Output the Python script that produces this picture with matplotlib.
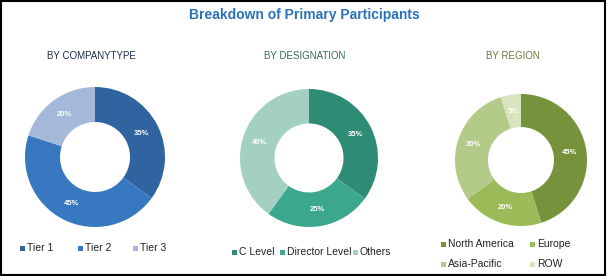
import matplotlib.pyplot as plt
from matplotlib.patches import Rectangle

# data
company_labels = ["Tier 1", "Tier 2", "Tier 3"]
company_values = [35, 45, 20]
company_colors = ["#2F64A0", "#3878C0", "#A4B9D9"]

designation_labels = ["C Level", "Director Level", "Others"]
designation_values = [35, 25, 40]
designation_colors = ["#2E8B74", "#3BA88D", "#A4CFC3"]

region_labels = ["North America", "Europe", "Asia-Pacific", "ROW"]
region_values = [45, 20, 30, 5]
region_colors = ["#76923C", "#9BBB59", "#B3CB88", "#D8E4BE"]

W, H = 607, 276
sans = ["Liberation Sans", "DejaVu Sans"]

fig = plt.figure(figsize=(W / 100, H / 100), dpi=100)
fig.patch.set_facecolor("white")


def px_axes(cx, cy, r):
    ax = fig.add_axes([(cx - r) / W, (H - cy - r) / H, 2 * r / W, 2 * r / H])
    return ax


def donut(ax, values, colors):
    wedges, _, autotexts = ax.pie(values, colors=colors, startangle=90, counterclock=False,
                                  radius=1, wedgeprops=dict(width=0.5, edgecolor="none"),
                                  autopct=lambda p: f"{p:.0f}%", pctdistance=0.75,
                                  textprops=dict(color="white", fontsize=5.5, fontweight="bold",
                                                 family=sans))
    ax.set_xlim(-1, 1)
    ax.set_ylim(-1, 1)
    ax.set_aspect("equal")
    ax.axis("off")
    return wedges


def legend_row(wedges, labels, xs, y, color="#222222"):
    for w, lab, x in zip(wedges, labels, xs):
        fig.patches.append(Rectangle((x / W, (H - y - 2.5) / H), 5 / W, 5 / H,
                                     transform=fig.transFigure, facecolor=w.get_facecolor(),
                                     edgecolor="none"))
        fig.text((x + 7) / W, 1 - y / H, lab, fontsize=7.5, family=sans, color=color,
                 va="center", ha="left")


ax1 = px_axes(95, 157, 70)
w1 = donut(ax1, company_values, company_colors)
ax2 = px_axes(309, 158, 69)
w2 = donut(ax2, designation_values, designation_colors)
ax3 = px_axes(521, 160, 66)
w3 = donut(ax3, region_values, region_colors)

fig.text(304 / W, 1 - 15 / H, "Breakdown of Primary Participants", ha="center", va="center",
         fontsize=10, fontweight="bold", color="#2A72B8", family=sans)
fig.text(91 / W, 1 - 56 / H, "BY COMPANYTYPE", ha="center", va="center", fontsize=7,
         family=sans, color="#1F2E4A")
fig.text(305 / W, 1 - 56 / H, "BY DESIGNATION", ha="center", va="center", fontsize=7,
         family=sans, color="#2E6B57")
fig.text(513 / W, 1 - 56 / H, "BY REGION", ha="center", va="center", fontsize=7,
         family=sans, color="#6B7A3A")

legend_row(w1, company_labels, [20, 78, 133], 248)
legend_row(w2, designation_labels, [232, 280, 353], 252)
legend_row(w3[:2], region_labels[:2], [441, 530], 244)
legend_row(w3[2:], region_labels[2:], [441, 530], 264)

fig.patches.append(Rectangle((0.002, 0.004), 0.994, 0.992, transform=fig.transFigure,
                             facecolor="none", edgecolor="black", linewidth=1.5))

fig.savefig("out.png", dpi=100)
